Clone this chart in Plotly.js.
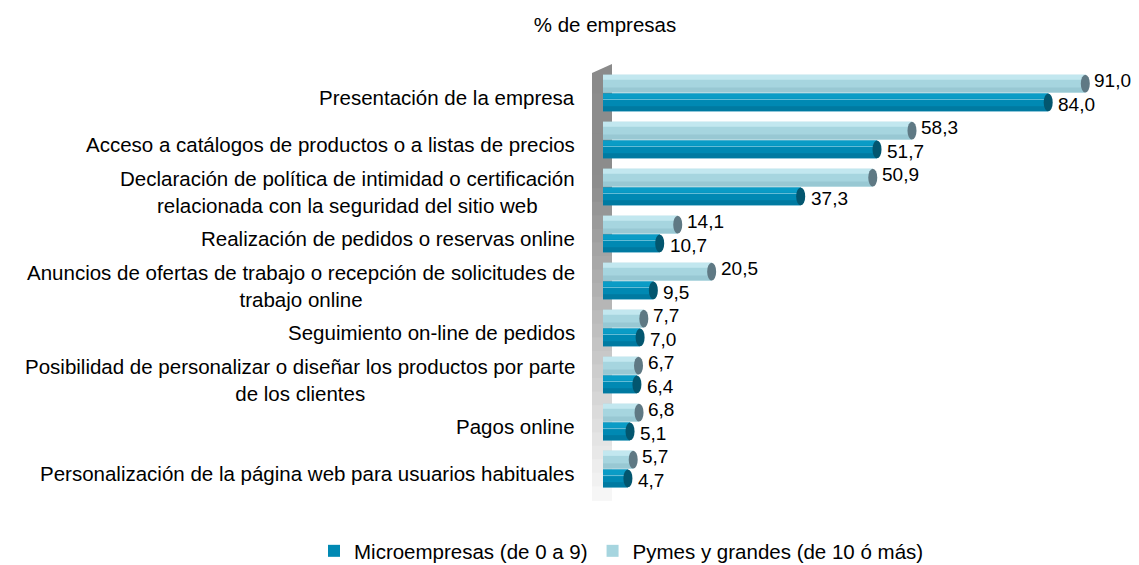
<!DOCTYPE html>
<html>
<head>
<meta charset="utf-8">
<script src="https://cdn.plot.ly/plotly-3.0.1.min.js"></script>
<style>html,body{margin:0;padding:0;background:#fff;}#chart{width:1139px;height:565px;}</style>
</head>
<body>
<div id="chart"></div>
<script>
const categories = [
  "Presentación de la empresa",
  "Acceso a catálogos de productos o a listas de precios",
  "Declaración de política de intimidad o certificación<br>relacionada con la seguridad del sitio web",
  "Realización de pedidos o reservas online",
  "Anuncios de ofertas de trabajo o recepción de solicitudes de<br>trabajo online",
  "Seguimiento on-line de pedidos",
  "Posibilidad de personalizar o diseñar los productos por parte<br>de los clientes",
  "Pagos online",
  "Personalización de la página web para usuarios habituales"
];
const microValues = [84.0, 51.7, 37.3, 10.7, 9.5, 7.0, 6.4, 5.1, 4.7];
const pymesValues = [91.0, 58.3, 50.9, 14.1, 20.5, 7.7, 6.7, 6.8, 5.7];
const seriesNames = ["Microempresas (de 0 a 9)", "Pymes y grandes (de 10 ó más)"];
const titleText = "% de empresas";

const FONT = "Liberation Sans, Arial, sans-serif";
const FS = 20.5;
const VFS = 19;
const PY_OFF = -0.40, MI_OFF = 0.0, BW = 0.38;
const L = 603, PW = 530, T = 70, PH = 423; // plot box in px
const px2paper = p => (p - L) / PW;
const py2paper = p => (T + PH - p) / PH;

function bar(vals, off, w, color, extra) {
  return Object.assign({
    type: 'bar', orientation: 'h', y: categories, x: vals,
    offset: off, width: w, marker: {color: color, line: {width: 0}},
    showlegend: false, hoverinfo: 'skip', cliponaxis: false
  }, extra || {});
}

const traces = [
  bar(microValues, MI_OFF, BW, '#0089b3', {name: seriesNames[0], showlegend: true}),
  bar(pymesValues, PY_OFF, BW, '#a6d5df', {name: seriesNames[1], showlegend: true}),
  // cylinder shading bands
  bar(pymesValues, PY_OFF, 0.11, '#c2e7ef'),
  bar(pymesValues, PY_OFF + 0.27, 0.11, '#98c8d3'),
  bar(microValues, MI_OFF, 0.11, '#0a9cc6'),
  bar(microValues, MI_OFF + 0.115, 0.025, '#62bcd6'),
  bar(microValues, MI_OFF + 0.27, 0.11, '#007aa1')
];

const shapes = [];
// gray wall (gradient approximated with strips)
const wx0 = px2paper(592), wx1 = px2paper(612);
shapes.push({type: 'path', xref: 'paper', yref: 'paper', layer: 'below',
  path: `M ${wx0},${py2paper(73)} L ${wx1},${py2paper(64)} L ${wx1},0.94 L ${wx0},0.94 Z`,
  fillcolor: '#8a8a8a', line: {width: 0}});
const nStrips = 30;
const spanTop = 0.945, spanBot = py2paper(500);
for (let k = 0; k < nStrips; k++) {
  const h = (spanTop - spanBot) / nStrips;
  const yTop = spanTop - k * h;
  const yBot = yTop - h - 0.002;
  const t = k / (nStrips - 1);
  const tt = Math.max(0, (t - 0.2) / 0.8);
  const g = Math.round(140 + (246 - 140) * tt);
  shapes.push({type: 'rect', xref: 'paper', yref: 'paper', layer: 'below',
    x0: wx0, x1: wx1, y0: yBot, y1: yTop, fillcolor: `rgb(${g},${g},${g})`, line: {width: 0}});
}
// cylinder end caps
categories.forEach((c, i) => {
  shapes.push({type: 'circle', xref: 'x', yref: 'y',
    x0: pymesValues[i] - 0.85, x1: pymesValues[i] + 0.85,
    y0: i + PY_OFF, y1: i + PY_OFF + BW, fillcolor: '#5f7984', line: {width: 0}});
  shapes.push({type: 'circle', xref: 'x', yref: 'y',
    x0: microValues[i] - 0.85, x1: microValues[i] + 0.85,
    y0: i + MI_OFF, y1: i + MI_OFF + BW, fillcolor: '#03566f', line: {width: 0}});
});

const fmt = v => v.toFixed(1).replace('.', ',');
const annotations = [];
categories.forEach((c, i) => {
  annotations.push({
    xref: 'paper', yref: 'y', x: px2paper(577), y: i, yshift: -4, text: c,
    xanchor: 'right', yanchor: 'middle', align: 'center', showarrow: false,
    font: {family: FONT, size: FS, color: '#000'}
  });
  annotations.push({
    xref: 'x', yref: 'y', x: pymesValues[i], y: i + PY_OFF + BW / 2, xshift: 7, yshift: 3,
    text: fmt(pymesValues[i]), xanchor: 'left', yanchor: 'middle', showarrow: false,
    font: {family: FONT, size: VFS, color: '#000'}
  });
  annotations.push({
    xref: 'x', yref: 'y', x: microValues[i], y: i + MI_OFF + BW / 2, xshift: 8, yshift: -2,
    text: fmt(microValues[i]), xanchor: 'left', yanchor: 'middle', showarrow: false,
    font: {family: FONT, size: VFS, color: '#000'}
  });
});

const layout = {
  width: 1139, height: 565,
  margin: {l: L, r: 1139 - L - PW, t: T, b: 565 - T - PH, pad: 0, autoexpand: false},
  paper_bgcolor: '#fff', plot_bgcolor: 'rgba(0,0,0,0)',
  separators: ',.',
  barmode: 'overlay',
  font: {family: FONT, size: FS, color: '#000'},
  title: {text: titleText, x: 605 / 1139, xanchor: 'center', y: 1 - 25 / 565, yanchor: 'middle',
          font: {family: FONT, size: FS, color: '#000'}},
  xaxis: {range: [0, 100], showgrid: false, zeroline: false, showticklabels: false, showline: false, fixedrange: true},
  yaxis: {type: 'category', range: [8.5, -0.5], showgrid: false, zeroline: false, showticklabels: false, showline: false, fixedrange: true},
  legend: {orientation: 'h', xref: 'paper', yref: 'paper', x: px2paper(314), xanchor: 'left',
           y: py2paper(551), yanchor: 'middle',
           font: {family: FONT, size: FS, color: '#000'}, itemwidth: 30, tracegroupgap: 0},
  shapes: shapes,
  annotations: annotations,
  showlegend: true
};

Plotly.newPlot('chart', traces, layout, {displayModeBar: false, staticPlot: true});
</script>
</body>
</html>
